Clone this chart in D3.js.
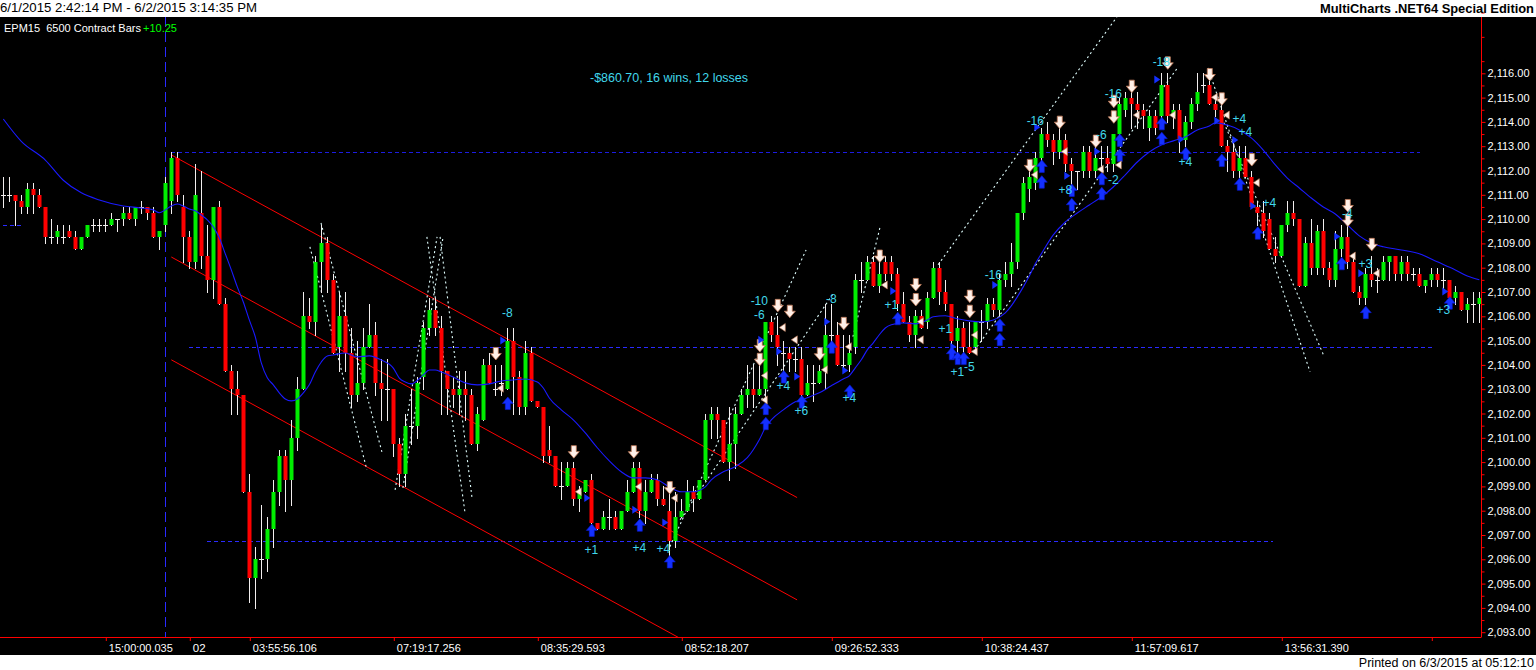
<!DOCTYPE html>
<html><head><meta charset="utf-8">
<script src="https://cdn.jsdelivr.net/npm/d3@7"></script>
<style>
body{margin:0;background:#fff;overflow:hidden}
svg{display:block}
text{font-family:Arial,"Liberation Sans",sans-serif}
</style>
</head><body><svg id="c" width="1536" height="670"></svg>
<script>
// ---------- DATA ----------
const opens=[2111,2111,2111,2110.75,2110.5,2111.25,2111,2110.5,2109.25,2109.25,2109.25,2109.5,2109.25,2108.75,2109.25,2109.75,2109.75,2109.75,2109.75,2110,2110,2110.25,2110,2110.5,2110.5,2110.25,2109.25,2109.75,2110.75,2112.5,
2110.5,2109.25,2108.25,2110.25,2108.5,2107.5,2110.5,2106.5,2103.75,2103,2102.75,2098.75,2095.25,2096,2096,2097.25,2098.75,2100.25,2099.25,2101,
2103,2106,2105.75,2108.25,2109,2107.5,2104.75,2106,2104.5,2102.75,2103.25,2104.75,2105.25,2103.25,2103,2103,2100.75,2099.5,2101.5,2101.5,
2103.5,2105.5,2106.25,2105.5,2103.75,2103,2102.75,2103,2102.75,2100.75,2101.75,2104,2103,2103.25,2103,2105,2103.5,2102.25,2104.5,2102.5,
2102.25,2100.5,2100.25,2099,2099,2099.75,2098.5,2098.75,2099.25,2097.5,2097.25,2097.75,2097.75,2097.25,2098,2098.75,2099.75,2098,2098.75,2099.25,
2098.5,2098,2096.75,2097.75,2098,2098.75,2098.5,2099.25,2101.75,2102,2101.75,2100,2100.75,2102,2102.75,2103,2102.75,2103,2105.75,2105.25,
2104.5,2104.5,2104.25,2104.25,2102.75,2103.25,2103.25,2103.75,2105.25,2105.25,2104,2104,2104.75,2107.5,2107.5,2108.25,2107.25,2108.25,2108.25,2107.75,
2106.5,2105.75,2105.25,2106,2105.75,2106.75,2108,2107,2106.5,2105,2105.5,2104.75,2104.75,2105.75,2105.75,2106.5,2106.25,2107.5,2107.75,2108.25,
2110.25,2111.25,2111.5,2112.5,2113.5,2113.25,2112.75,2113.25,2112.25,2112,2112,2112.75,2112,2112.5,2112.5,2112.25,2113.5,2114.5,2115,2114.75,
2114.5,2113.75,2114.25,2114.25,2115.5,2114.25,2114.5,2113.25,2114,2114.75,2115.5,2115.5,2114.75,2114.5,2113,2112.75,2112,2112.5,2111.75,2110.5,
2110.25,2110,2108.75,2108.5,2109.75,2110.25,2110,2107.25,2109,2108,2109.5,2108,2107.5,2108.75,2109.25,2108.25,2107,2106.75,2107.75,2107.5,
2107.5,2108.25,2108.5,2107.75,2108.25,2107.75,2107.75,2107.25,2107.5,2107.75,2107.5,2107.5,2106.75,2107,2106.25,2106.5,2106.5];
const highs=[2111.75,2111.75,2111,2111,2111.5,2111.5,2111.25,2110.5,2110,2109.75,2109.75,2109.75,2109.5,2109.25,2109.75,2110,2110,2110,2110.25,2110,2110.5,2110.5,2110.5,2110.75,2110.5,2110.5,2109.5,2111.75,2112.75,2112.75,
2111,2109.5,2112.25,2112,2109.75,2110.5,2110.75,2106.75,2104,2103.75,2102.75,2099.5,2096.5,2098.25,2097.75,2099.25,2100.5,2100.5,2101.75,2103.5,
2107,2106.75,2108.5,2109.75,2109.25,2107.75,2107,2107,2105.5,2105,2105.5,2106.5,2105.75,2104.25,2104.25,2103,2101,2102,2103,2103.5,
2105.75,2106.75,2106.75,2106,2103.75,2103.5,2103.75,2103.75,2103,2102.25,2104.25,2104.5,2104,2104,2105.5,2105.5,2103.75,2105,2104.75,2102.5,
2102.25,2101.5,2100.25,2100,2100,2100,2099,2099.25,2099.5,2097.5,2098,2098.5,2098,2098,2099.25,2100,2100,2099.25,2099.5,2099.5,
2099,2098.75,2098.75,2098.5,2099.25,2099,2099.25,2102,2102.25,2102.25,2101.75,2102.25,2102.25,2103,2104,2104,2104.25,2105.75,2106,2106,
2105,2104.75,2104.75,2104.75,2104,2104,2104,2106.5,2106.5,2105.75,2105.25,2105.25,2107.75,2108.25,2108.5,2108.5,2108.25,2108.5,2108.5,2108,
2107,2106,2106.25,2106.25,2107,2108.25,2108.25,2107.5,2106.5,2106,2105.75,2105.75,2105.75,2106.25,2106.75,2106.75,2107.75,2108.25,2109,2110.25,
2111.75,2112.25,2112.75,2113.75,2114,2113.5,2113.75,2113.5,2112.5,2112,2113,2113,2113.25,2113,2113,2113.5,2115,2115.25,2115.25,2115.25,
2114.75,2114.5,2114.5,2116,2116,2114.75,2114.75,2114.25,2115,2116,2116,2116,2115,2114.75,2113.25,2113.25,2113,2113,2112,2110.75,
2110.75,2110.25,2109.25,2109.75,2110.75,2110.75,2110,2109.25,2110,2109.75,2110,2108.25,2109.5,2109.75,2109.75,2108.5,2107.25,2108,2108.5,2108,
2108.5,2108.5,2108.5,2108.5,2108.5,2108,2108,2107.5,2108,2108,2108,2107.5,2107.25,2107,2106.75,2107,2107];
const lows=[2110.5,2110.75,2109.75,2110.25,2110.25,2110.25,2110.5,2109,2109,2109,2109,2109.25,2108.75,2108.75,2109.25,2109.5,2109.5,2109.5,2109.75,2109.5,2109.75,2110,2109.75,2110.25,2110,2109.25,2108.75,2109.5,2110.25,2110.75,
2108.25,2108,2108,2108,2107,2106.75,2106.5,2103.75,2102,2102,2098.75,2094.25,2094,2095.25,2095.5,2096.5,2098.25,2098,2098.25,2100.5,
2103,2105.5,2105.25,2107,2107,2104.5,2103.75,2103.75,2102.25,2102.5,2103,2104.75,2102.75,2101.75,2101.75,2100.25,2099,2099,2100.75,2101,
2103,2105.25,2105.25,2102,2102,2102.25,2102,2101.75,2100.75,2100.5,2101.75,2103.25,2102.75,2102.75,2103,2102,2102,2102,2102.5,2102.25,
2100,2100,2099,2098.5,2099,2098.25,2098,2098.75,2097.5,2097.25,2097.25,2097.25,2097.25,2097.25,2098,2098.75,2097.75,2097.5,2098.75,2098.25,
2098.25,2096,2096.5,2097.75,2098,2098,2098.5,2099.25,2101,2101,2100,2099.25,2099.75,2102,2102.25,2102.25,2102.75,2102.5,2105,2104,
2103.75,2103.75,2103.75,2102.5,2102.75,2102.5,2103.25,2103,2104.75,2104,2103.75,2103.75,2104.5,2107,2107.5,2107.25,2107,2107.5,2107.5,2106.25,
2105.75,2105,2104.75,2105.5,2105.5,2106.75,2106.5,2106.25,2104.75,2104.5,2104.5,2104.5,2104.5,2105,2105.5,2106,2106,2107.25,2107.25,2108,
2110,2110.75,2111.25,2112.25,2113,2112.25,2112.5,2112,2111.25,2111.25,2111.75,2111.75,2111.75,2112,2112,2112,2113.25,2114.25,2113.75,2113.75,
2113.75,2113.25,2113.5,2113.75,2114,2113.75,2112.75,2113,2113.75,2114.5,2115.25,2114.75,2114.25,2113,2112,2111.75,2111.75,2111.75,2110.5,2109.75,
2109.25,2108.75,2108.25,2108.5,2109.5,2109.75,2107.25,2107.25,2107.75,2107.75,2107.75,2107.25,2107.25,2108.5,2108,2107,2106.5,2106.5,2107.25,2107,
2107.5,2107.5,2107.5,2107.5,2107.5,2107.5,2107.25,2107,2107.25,2107.25,2107,2106.75,2106.5,2106.25,2105.75,2105.75,2105.75];
const closes=[2111,2111,2110.75,2110.5,2111.25,2111,2110.5,2109.25,2109.25,2109.5,2109.25,2109.25,2108.75,2109.25,2109.75,2109.75,2109.75,2109.75,2110,2110,2110.25,2110,2110.5,2110.5,2110.25,2109.25,2109.5,2111.5,2112.5,2111,
2109.25,2108.25,2111,2108.5,2107.5,2110.5,2106.5,2103.75,2103,2102.75,2098.75,2095.25,2096,2096,2097.25,2098.75,2100.25,2099.25,2101,2103,
2106,2105.75,2108.25,2109,2107.5,2104.5,2106,2104.5,2102.75,2103.25,2104.75,2105.25,2103.25,2103,2103,2100.75,2099.5,2101.5,2101.5,2103.25,
2105.5,2106.25,2105.5,2103.75,2103,2102.75,2103,2102.75,2100.75,2102,2104,2103.25,2103,2103.25,2105,2103.5,2102.25,2104.5,2102.5,2102.25,
2100.25,2100.25,2099,2099,2099.75,2098.5,2098.75,2099.25,2097.5,2097.25,2097.75,2097.75,2097.25,2098,2098.75,2099.75,2098,2098.75,2099.25,2098.5,
2098.25,2096.75,2097.75,2098,2098.75,2098.5,2099.25,2101.75,2102,2101.75,2100,2100.75,2102,2102.75,2103,2102.75,2103,2105.75,2105.25,2104.75,
2104.5,2104.25,2104.25,2102.75,2103.25,2103.25,2103.75,2105.25,2105.25,2104,2104,2104.5,2107.5,2107.5,2108.25,2107.25,2107.75,2107.75,2107.75,2106.5,
2105.75,2105.25,2106,2105.5,2106.75,2108,2107,2106.5,2105,2105.5,2104.75,2104.5,2105.75,2105.75,2106.5,2106.25,2107.5,2107.75,2108.25,2110.25,
2111.5,2111.75,2112.5,2113.5,2113.25,2112.75,2113.25,2112.25,2112,2112,2112.75,2112,2112.5,2112.5,2112.25,2113.5,2114.75,2115,2114.75,2114.5,
2114.25,2114.25,2113.75,2115.5,2114.25,2114.5,2113.25,2114,2114.75,2115.25,2115.5,2114.75,2114.5,2113,2112.75,2112,2112.5,2111.75,2110.5,2110.25,
2109.5,2108.75,2108.5,2109.75,2110.25,2110,2107.25,2109,2108,2109.5,2108,2107.5,2108.75,2109.25,2108.25,2107,2106.75,2107.75,2107.5,2107.5,
2108.25,2108.5,2107.75,2108.25,2107.75,2107.75,2107.25,2107.5,2107.75,2107.5,2107.5,2106.75,2107,2106.25,2106.5,2106.5,2106.75];

// moving average (blue), sampled at bars
const maBars=[0,3,7,10,13,16,20,23,25,26,27,28,29,30,31,32,33,34,35,36,37,38,39,40,41,42,43,44,45,46,47,48,49,50,51,52,53,54,55,57,59,61,63,65,66,67,68,70,71,72,73,75,77,79,81,83,85,87,89,90,91,93,95,97,99,101,103,105,107,109,111,113,115,117,118,120,122,124,125,126,127,128,130,132,134,136,138,140,141,142,143,144,145,146,147,148,150,152,154,155,157,159,161,163,165,167,168,169,170,171,172,173,175,177,179,181,183,185,187,189,191,193,195,197,199,201,202,204,206,208,210,212,214,216,218,220,222,224,226,228,230,233,236,239,242,244,246];
const maVals=[2114.12,2113.2,2112.43,2111.6,2111.08,2110.79,2110.54,2110.46,2110.38,2110.26,2110.38,2110.54,2110.62,2110.54,2110.42,2110.34,2110.17,2109.97,2109.68,2109.23,2108.57,2107.91,2107.21,2106.59,2105.85,2105.15,2104.08,2103.47,2103.18,2102.85,2102.6,2102.52,2102.6,2102.85,2103.18,2103.71,2104.12,2104.37,2104.41,2104.49,2104.33,2104.37,2104.2,2103.87,2103.46,2103.3,2103.22,2103.59,2103.79,2103.79,2103.71,2103.5,2103.26,2103.18,2103.22,2103.34,2103.38,2103.42,2103.3,2103.05,2102.64,2102.15,2101.74,2101.2,2100.59,2100.05,2099.6,2099.35,2099.35,2099.27,2098.98,2098.78,2098.78,2098.98,2099.27,2099.6,2099.81,2100.18,2100.51,2100.92,2101.41,2101.74,2102.15,2102.48,2102.65,2102.85,2103.14,2103.42,2103.55,2103.88,2104.21,2104.62,2104.91,2105.24,2105.52,2105.65,2105.73,2105.69,2105.85,2105.98,2106.02,2105.9,2105.81,2105.77,2105.85,2106.14,2106.43,2106.8,2107.21,2107.66,2108.16,2108.57,2109.35,2109.88,2110.25,2110.58,2110.91,2111.32,2111.82,2112.35,2112.76,2113.05,2113.22,2113.38,2113.67,2113.83,2113.96,2113.87,2113.67,2113.34,2112.84,2112.23,2111.69,2111.28,2110.87,2110.5,2110.21,2109.76,2109.31,2109.02,2108.86,2108.73,2108.57,2108.24,2107.91,2107.66,2107.5];

// red regression channel: [bar0, price0, bar1, price1]
const channelLines=[[28,2112.64,132.3,2098.54],[28,2108.44,132.3,2094.33],[28,2104.21,132.3,2090.11]];
// dotted trend lines: [bar0, price0, bar1, price1]
const dottedLines=[[111.1,2096.52,133.8,2108.73],[112.8,2097.63,138.5,2107.0],[141.6,2105.16,146.1,2109.64],
 [155.8,2108.12,185.6,2118.32],[162.3,2104.75,195.8,2116.26],[51.1,2108.86,60.6,2099.68],[52.95,2109.84,63.1,2100.42],
 [65.3,2098.86,72.3,2109.27],[66.6,2098.94,73.3,2109.27],[70.6,2109.27,76.95,2097.92],[72.8,2109.27,78.1,2098.57],
 [200.8,2116.22,217.8,2103.71],[203.1,2114.16,220.1,2104.37]];
// blue dashed price levels: [price, fromBar, toBar]
const levels=[[2112.75,28,236.1],[2104.75,31,238.3],[2096.75,34,211.6],[2109.75,0,3.5]];
const sessionBreakBar=27;

// trade markers
const dnBars=[82,95,105,111,126,126,129,131,136,140,146,152,152,161,161,171,176,182,185,185,188,194,201,203,208,224,224,228];
const dnPrices=[2104.45,2100.41,2100.41,2098.93,2104.78,2104.21,2106.43,2106.19,2104.44,2105.69,2108.46,2107.29,2106.67,2106.81,2106.19,2112.19,2113.97,2113.19,2114.83,2114.19,2115.45,2116.41,2115.93,2114.93,2112.43,2110.54,2109.94,2108.94];
const upBars=[84,98,106,111,127,127,130,133,138,141,149,158,159,160,166,166,173,173,178,178,183,183,186,186,193,193,197,203,206,209,223,227,241];
const upPrices=[2102.43,2097.21,2097.42,2095.91,2102.22,2101.6,2103.52,2102.49,2104.75,2102.93,2105.92,2104.48,2104.28,2104.28,2105.65,2105.06,2112.19,2111.54,2111.2,2110.61,2111.68,2111.06,2113.26,2112.64,2113.94,2113.33,2112.71,2112.43,2111.45,2109.44,2108.18,2106.17,2106.56];
const rtBars=[84,98,106,111,127,130,133,138,141,149,159,166,173,178,183,193,197,203,206,209,223,227,241];
const rtPrices=[2105.0,2098.52,2098.04,2097.51,2105.03,2104.55,2103.52,2105.78,2103.77,2107.04,2104.75,2107.29,2113.78,2111.78,2112.78,2115.75,2113.29,2114.05,2113.26,2110.54,2109.28,2107.77,2107.02];
const ltBars=[82,95,105,111,126,126,129,131,136,140,146,152,152,161,161,171,176,182,185,188,194,201,203,208,224,228];
const ltPrices=[2103.04,2098.78,2098.99,2098.52,2103.56,2102.56,2105.54,2105.03,2103.8,2104.75,2107.29,2105.78,2105.03,2105.23,2104.55,2111.82,2112.78,2112.05,2112.23,2114.28,2114.28,2115.01,2114.28,2111.5,2108.48,2107.77];
const tradeLabels=["-8","+1","+4","+4","-10","-6","+4","+6","-8","+4","+1","+1","+1","-5","-16","-16","+8","-6","-2","-16","-18","+4","+4","+4","+4","-4","+3","+3"];
const tradeLabelBars=[84,98,106,110,126,126,130,133,138,141,148,157,159,161,165,172,177,183,185,185,193,197,206,207,211,224,227,240];
const tradeLabelPrices=[2106.13,2096.39,2096.46,2096.42,2106.66,2106.07,2103.14,2102.11,2106.74,2102.66,2106.47,2105.51,2103.73,2103.93,2107.73,2114.05,2111.2,2113.49,2111.61,2115.15,2116.48,2112.36,2114.12,2113.6,2110.68,2110.24,2108.16,2106.26];

// axes
const priceTicks=d3.range(2093,2117,1);
const timeTickBars=[17,31,41,65,89,113,138,163,188,213,238];
const timeTickLabels=["15:00:00.035","02","03:55:56.106","07:19:17.256","08:35:29.593","08:52:18.207","09:26:52.333","10:38:24.437","11:57:09.617","13:56:31.390",""];

const titleRange="6/1/2015 2:42:14 PM - 6/2/2015 3:14:35 PM";
const brand="MultiCharts .NET64 Special Edition";
const symbolText="EPM15  6500 Contract Bars";
const netChange="+10.25";
const summaryText="-$860.70, 16 wins, 12 losses";
const printedText="Printed on 6/3/2015 at 05:12:10";

// ---------- DRAWING ----------
(function(){
const W=1536,H=670, topY=17, plotBottom=637, blackBottom=655, axisX=1481.5;
const svg=d3.select("#c");
const x=d3.scaleLinear().domain([0,246]).range([3.3,1479.3]);
const y=d3.scaleLinear().domain([2093,2116]).range([632.2,73.3]);

svg.append("rect").attr("width",W).attr("height",H).attr("fill","#fff");
svg.append("rect").attr("y",topY).attr("width",W).attr("height",blackBottom-topY).attr("fill","#000");

svg.append("defs").append("clipPath").attr("id","clip").append("rect")
  .attr("x",0).attr("y",topY).attr("width",axisX).attr("height",plotBottom-topY);
const g=svg.append("g").attr("clip-path","url(#clip)");

g.append("line").attr("x1",Math.round(x(sessionBreakBar))+0.5).attr("x2",Math.round(x(sessionBreakBar))+0.5).attr("y1",topY).attr("y2",plotBottom)
  .attr("stroke","#2a2aff").attr("stroke-width",1).attr("stroke-dasharray","10,5").attr("shape-rendering","crispEdges");
g.selectAll(".lvl").data(levels).join("line")
  .attr("x1",d=>x(d[1])).attr("x2",d=>x(d[2]))
  .attr("y1",d=>Math.round(y(d[0]))+0.5).attr("y2",d=>Math.round(y(d[0]))+0.5)
  .attr("stroke",(d,i)=>i===0?"#1c1ce0":"#2a2aff").attr("stroke-width",1).attr("stroke-dasharray","4,3")
  .attr("shape-rendering","crispEdges");
g.selectAll(".ch").data(channelLines).join("line")
  .attr("x1",d=>x(d[0])).attr("y1",d=>y(d[1])).attr("x2",d=>x(d[2])).attr("y2",d=>y(d[3]))
  .attr("stroke","#ff0000").attr("stroke-width",1);
g.selectAll(".dl").data(dottedLines).join("line")
  .attr("x1",d=>x(d[0])).attr("y1",d=>y(d[1])).attr("x2",d=>x(d[2])).attr("y2",d=>y(d[3]))
  .attr("stroke","#e0ffff").attr("stroke-width",1.1).attr("stroke-dasharray","2,3");

const bars=d3.range(opens.length);
const cg=g.append("g");
bars.forEach(i=>{
  const cx=Math.round(x(i));
  const o=opens[i],c=closes[i],h=highs[i],l=lows[i];
  cg.append("line").attr("x1",cx+0.5).attr("x2",cx+0.5).attr("y1",Math.round(y(h))).attr("y2",Math.round(y(l))+1)
    .attr("stroke","#f2eeee").attr("stroke-width",1);
  if(c===o){
    cg.append("line").attr("x1",cx-2).attr("x2",cx+3).attr("y1",Math.round(y(o))+0.5).attr("y2",Math.round(y(o))+0.5)
      .attr("stroke","#f2eeee");
  } else {
    const y0=Math.round(y(Math.max(o,c))), y1=Math.round(y(Math.min(o,c)));
    cg.append("rect").attr("x",cx-1.5).attr("width",4).attr("y",y0).attr("height",Math.max(1,y1-y0))
      .attr("fill",c>o?"#00ee00":"#ff0000");
  }
});

g.append("path").datum(maBars.map((b,i)=>[b,maVals[i]]))
  .attr("d",d3.line().x(d=>x(d[0])).y(d=>y(d[1])).curve(d3.curveMonotoneX))
  .attr("fill","none").attr("stroke","#1a1aff").attr("stroke-width",1.1);

const dnPath="M-2.5,-6.5L2.5,-6.5L2.5,-0.5L5.5,-0.5L0,6L-5.5,-0.5L-2.5,-0.5Z";
const upPath="M-2.5,6.5L2.5,6.5L2.5,0.5L5.5,0.5L0,-6L-5.5,0.5L-2.5,0.5Z";
const rtPath="M-3,-4L3,0L-3,4Z";
const ltPath="M3,-4L-3,0L3,4Z";
const mg=g.append("g");
dnBars.forEach((b,i)=>mg.append("path").attr("d",dnPath).attr("transform",`translate(${x(b)+0.5},${y(dnPrices[i])})`)
  .attr("fill","#fff0e8").attr("stroke","#c07a58").attr("stroke-width",0.8));
upBars.forEach((b,i)=>mg.append("path").attr("d",upPath).attr("transform",`translate(${x(b)+0.5},${y(upPrices[i])})`)
  .attr("fill","#1430ff").attr("stroke","#0a1ad0").attr("stroke-width",0.6));
rtBars.forEach((b,i)=>mg.append("path").attr("d",rtPath).attr("transform",`translate(${x(b)-4},${y(rtPrices[i])})`)
  .attr("fill","#1430ff"));
ltBars.forEach((b,i)=>mg.append("path").attr("d",ltPath).attr("transform",`translate(${x(b)+5},${y(ltPrices[i])})`)
  .attr("fill","#fff0e8").attr("stroke","#c07a58").attr("stroke-width",0.6));
tradeLabels.forEach((t,i)=>mg.append("text").text(t).attr("x",x(tradeLabelBars[i])).attr("y",y(tradeLabelPrices[i]))
  .attr("text-anchor","middle").attr("dy","0.36em").attr("font-size",12).attr("fill","#40d8ec"));

svg.append("text").text(summaryText).attr("x",590).attr("y",82).attr("font-size",12).attr("fill","#40d8ec")
  .attr("textLength",158).attr("lengthAdjust","spacingAndGlyphs");
svg.append("text").text(symbolText).attr("x",4).attr("y",32).attr("font-size",11).attr("fill","#fff").style("white-space","pre");
svg.append("text").text(netChange).attr("x",143).attr("y",32).attr("font-size",11).attr("fill","#00ff00");

const ya=svg.append("g").attr("transform",`translate(${axisX},0)`)
  .call(d3.axisRight(y).tickValues(priceTicks).tickFormat(d3.format(",.2f")).tickSize(4).tickPadding(2));
ya.select(".domain").remove();
ya.selectAll("line").attr("stroke","#ff0000");
ya.selectAll("text").attr("fill","#fff").attr("font-size",11).attr("font-family","Arial, Liberation Sans, sans-serif");
const minor=svg.append("g").attr("transform",`translate(${axisX},0)`)
  .call(d3.axisRight(y).tickValues(d3.range(2093,2118.6,0.5).filter(v=>v%1!==0)).tickSize(3).tickFormat(""));
minor.select(".domain").remove(); minor.selectAll("line").attr("stroke","#ff0000");
svg.append("line").attr("x1",axisX).attr("x2",axisX).attr("y1",topY).attr("y2",plotBottom).attr("stroke","#ff0000");

const xa=svg.append("g").attr("transform",`translate(0,${plotBottom})`)
  .call(d3.axisBottom(x).tickValues(timeTickBars).tickFormat((d,i)=>timeTickLabels[i]).tickSize(4).tickPadding(3));
xa.select(".domain").remove();
xa.selectAll("line").attr("stroke","#ff0000").attr("transform","translate(0.5,0)");
xa.selectAll("text").attr("fill","#fff").attr("font-size",11.5).attr("text-anchor","start").attr("dx",3)
  .attr("font-family","Arial, Liberation Sans, sans-serif")
  .each(function(d,i){ if(timeTickLabels[i].length>5){ d3.select(this).attr("textLength",64).attr("lengthAdjust","spacingAndGlyphs"); } });
svg.append("line").attr("x1",0).attr("x2",axisX).attr("y1",plotBottom+0.5).attr("y2",plotBottom+0.5).attr("stroke","#ff0000");

svg.append("text").text(titleRange).attr("x",0).attr("y",12).attr("font-size",12.5).attr("fill","#000")
  .attr("textLength",257).attr("lengthAdjust","spacingAndGlyphs");
svg.append("text").text(brand).attr("x",1534).attr("y",12.5).attr("text-anchor","end").attr("font-size",12)
  .attr("font-weight","bold").attr("font-family","'DejaVu Sans', Verdana, sans-serif").attr("fill","#000")
  .attr("textLength",214).attr("lengthAdjust","spacingAndGlyphs");
svg.append("text").text(printedText).attr("x",1534).attr("y",667).attr("text-anchor","end").attr("font-size",12.5).attr("fill","#000");
})();
</script>
</body></html>
